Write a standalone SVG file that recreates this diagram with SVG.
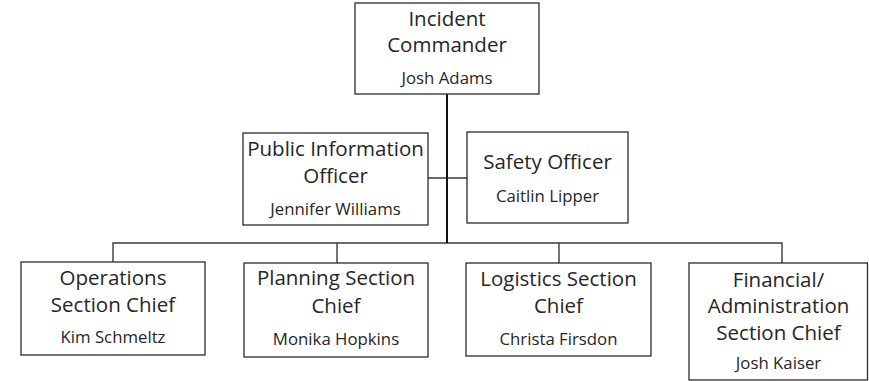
<svg xmlns="http://www.w3.org/2000/svg" width="869" height="381" viewBox="0 0 869 381">
<style>
.box{fill:#fff;stroke:#2b2b2b;stroke-width:1.3}
.t{font-family:"Open Sans","Noto Sans",sans-serif;font-size:20.5px;fill:#262626;text-anchor:middle}
.n{font-family:"Open Sans","Noto Sans",sans-serif;font-size:16.8px;fill:#262626;text-anchor:middle}
.c{fill:none;stroke:#3a3a3a;stroke-width:1.4}
</style>
<rect width="869" height="381" fill="#fff"/>
<g id="connectors">
<path class="c" d="M113 262 V243 H782 V263 M337 243 V263 M559 243 V263 M428 178 H467"/>
<path d="M447 94 V243" fill="none" stroke="#111" stroke-width="2"/>
</g>
<g id="incident-commander">
<rect class="box" x="355" y="3" width="184" height="91"/>
<text class="t" x="447" y="26">Incident</text>
<text class="t" x="447" y="52">Commander</text>
<text class="n" x="447" y="84">Josh Adams</text>
</g>
<g id="public-information-officer">
<rect class="box" x="243" y="133" width="185" height="92"/>
<text class="t" x="335.5" y="156">Public Information</text>
<text class="t" x="335.5" y="183">Officer</text>
<text class="n" x="335.5" y="215">Jennifer Williams</text>
</g>
<g id="safety-officer">
<rect class="box" x="467" y="132" width="161" height="91"/>
<text class="t" x="547.5" y="169">Safety Officer</text>
<text class="n" x="547.5" y="202">Caitlin Lipper</text>
</g>
<g id="operations">
<rect class="box" x="21" y="262" width="184" height="93"/>
<text class="t" x="113" y="285">Operations</text>
<text class="t" x="113" y="312">Section Chief</text>
<text class="n" x="113" y="343">Kim Schmeltz</text>
</g>
<g id="planning">
<rect class="box" x="244" y="263" width="184" height="94"/>
<text class="t" x="336" y="285">Planning Section</text>
<text class="t" x="336" y="313">Chief</text>
<text class="n" x="336" y="345">Monika Hopkins</text>
</g>
<g id="logistics">
<rect class="box" x="466" y="263" width="185" height="93"/>
<text class="t" x="558.5" y="286">Logistics Section</text>
<text class="t" x="558.5" y="313">Chief</text>
<text class="n" x="558.5" y="345">Christa Firsdon</text>
</g>
<g id="financial">
<rect class="box" x="689" y="263" width="178.5" height="117"/>
<text class="t" x="778.5" y="287">Financial/</text>
<text class="t" x="778.5" y="313">Administration</text>
<text class="t" x="778.5" y="340">Section Chief</text>
<text class="n" x="778.5" y="369">Josh Kaiser</text>
</g>
</svg>
